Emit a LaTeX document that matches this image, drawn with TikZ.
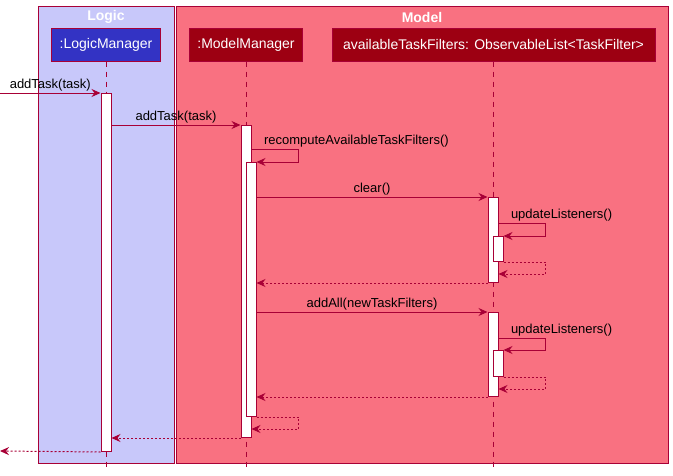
\documentclass[tikz,border=0pt]{standalone}
\usepackage{fontspec}
\setmainfont{Liberation Sans}
\usepackage{tikz}
\usetikzlibrary{arrows.meta,positioning}
\usepackage{xcolor}
\definecolor{umlred}{HTML}{A80036}
\definecolor{logicbg}{HTML}{C8C8FA}
\definecolor{modelbg}{HTML}{F97181}
\definecolor{logichd}{HTML}{3333C4}
\definecolor{modelhd}{HTML}{9D0012}
\tikzstyle{msg} = [line width=1pt,->,>={Stealth[length=9pt,width=8pt,inset=3pt]},color=umlred]
\tikzstyle{ret} = [msg,dash pattern=on 2pt off 2pt]
\tikzstyle{life} = [line width=1pt,color=umlred,dash pattern=on 5pt off 5pt]
\tikzstyle{act} = [draw=umlred,line width=1pt,fill=white,minimum width=10pt,inner sep=0pt,anchor=north]
\tikzstyle{head} = [draw=umlred,line width=1pt,text=white,minimum height=33pt,inner sep=0pt,font=\fontsize{14}{16}\selectfont]
\tikzstyle{lbl} = [text=black,font=\fontsize{13}{15}\selectfont,inner sep=0pt,yshift=4.5pt]
\tikzstyle{grp} = [draw=umlred,line width=1pt]

\begin{document}
\begin{tikzpicture}[x=1pt,y=-1pt]
\useasboundingbox (0,0) rectangle (673,475);

% Boxes
\draw[grp,fill=logicbg] (38.5,6) rectangle (174.5,463);
\draw[grp,fill=modelbg] (176,6) rectangle (668,463);
\node[text=white,font=\fontsize{14}{16}\selectfont\bfseries] (tLogic) at (106,17) {Logic};
\node[text=white,font=\fontsize{14}{16}\selectfont\bfseries] (tModel) at (422,17) {Model};

% Participants
\node[head,fill=logichd,minimum width=109pt] (hLM) at (106,44.5) {:LogicManager};
\node[head,fill=modelhd,minimum width=113pt] (hMM) at (246,44.5) {:ModelManager};
\node[head,fill=modelhd,minimum width=323pt] (hTF) at (493.5,44.5) {availableTaskFilters: ObservableList<TaskFilter>};

% Lifelines
\coordinate (bot) at (0,467);
\draw[life] (hLM.south) -- (hLM.south |- bot);
\draw[life] (hMM.south) -- (hMM.south |- bot);
\draw[life] (hTF.south -| 493,0) -- (493,467);

% Activations
\node[act,minimum height=358pt] (aLM) at (106,93) {};
\node[act,minimum height=312pt] (aMM) at (246,125) {};
\node[act,minimum height=254pt] (aMM2) at (251,162) {};
\node[act,minimum height=85pt] (aTF) at (493,197) {};
\node[act,minimum height=25pt] (aTFb) at (498,236) {};
\node[act,minimum height=84pt] (aTF2) at (493,312) {};
\node[act,minimum height=26pt] (aTF2b) at (498,350) {};

% Messages
\coordinate (in) at (0,93);
\coordinate (out) at (0,451);
\draw[msg] (in) -- node[lbl,anchor=base] {addTask(task)} (aLM.north west);
\draw[msg] (aMM.north west -| aLM.east) -- node[lbl,anchor=base] {addTask(task)} (aMM.north west);
\draw[msg] ([yshift=13pt]aMM2.north -| aMM.east) node[lbl,anchor=base west,xshift=12pt] {recomputeAvailableTaskFilters()} -- ++(47,0) |- (aMM2.north east);
\draw[msg] (aTF.north west -| aMM2.east) -- node[lbl,anchor=base] {clear()} (aTF.north west);
\draw[msg] ([yshift=13pt]aTFb.north -| aTF.east) node[lbl,anchor=base west,xshift=12pt] {updateListeners()} -- ++(47,0) |- (aTFb.north east);
\draw[ret] (aTFb.south east) -- ++(42,0) |- ([yshift=-12pt]aTFb.south -| aTF.east);
\draw[ret] (aTF.south west) -- (aTF.south west -| aMM2.east);
\draw[msg] (aTF2.north west -| aMM2.east) -- node[lbl,anchor=base] {addAll(newTaskFilters)} (aTF2.north west);
\draw[msg] ([yshift=12pt]aTF2b.north -| aTF2.east) node[lbl,anchor=base west,xshift=12pt] {updateListeners()} -- ++(47,0) |- (aTF2b.north east);
\draw[ret] (aTF2b.south east) -- ++(42,0) |- ([yshift=-12pt]aTF2b.south -| aTF2.east);
\draw[ret] (aTF2.south west) -- (aTF2.south west -| aMM2.east);
\draw[ret] (aMM2.south east) -- ++(42,0) |- ([yshift=-12pt]aMM2.south -| aMM.east);
\draw[ret] (aMM.south west) -- (aMM.south west -| aLM.east);
\draw[ret] (aLM.south west) -- (out);
\end{tikzpicture}
\end{document}
